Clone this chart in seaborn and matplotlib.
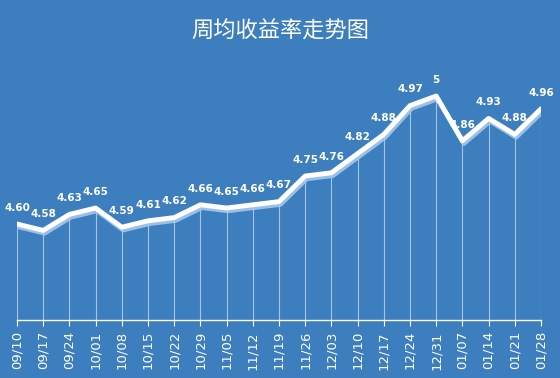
import matplotlib
matplotlib.use("Agg")
import matplotlib.pyplot as plt
import seaborn as sns
import pandas as pd
import matplotlib.patheffects as pe

dates = ["09/10","09/17","09/24","10/01","10/08","10/15","10/22","10/29","11/05","11/12","11/19",
         "11/26","12/03","12/10","12/17","12/24","12/31","01/07","01/14","01/21","01/28"]
values = [4.60,4.58,4.63,4.65,4.59,4.61,4.62,4.66,4.65,4.66,4.67,
          4.75,4.76,4.82,4.88,4.97,5.00,4.86,4.93,4.88,4.96]
labels = ["4.60","4.58","4.63","4.65","4.59","4.61","4.62","4.66","4.65","4.66","4.67",
          "4.75","4.76","4.82","4.88","4.97","5","4.86","4.93","4.88","4.96"]
title = "周均收益率走势图"

bg = "#3d7ebe"
sns.set_theme(style="white")
plt.rcParams['font.family'] = ['Noto Sans CJK SC', 'DejaVu Sans']

df = pd.DataFrame({"x": range(len(dates)), "v": values})

fig = plt.figure(figsize=(5.6, 3.78), dpi=100, facecolor=bg)
ax = fig.add_axes([17/560, 58/378, 524/560, 256/378])
ax.set_facecolor(bg)

ymin = 4.30
ax.vlines(df["x"], ymin, df["v"], color="white", alpha=0.55, lw=0.8, zorder=1)
sns.lineplot(data=df, x="x", y="v", ax=ax, color="white", lw=3.5, zorder=3,
             path_effects=[pe.SimpleLineShadow(offset=(1, -2), shadow_color="#a6c8ec",
                                               alpha=0.9, linewidth=3.5),
                           pe.Normal()])

for i, (v, t) in enumerate(zip(values, labels)):
    ax.annotate(t, (i, v), xytext=(0, 8), textcoords="offset points", ha="center", va="bottom",
                color="white", fontsize=7.5, fontweight="bold", family=["DejaVu Sans"], zorder=4)

ax.set_xlim(0, len(dates) - 1)
ax.set_ylim(ymin, 5.1)
ax.set_xticks(range(len(dates)))
ax.set_xticklabels(dates, rotation=90, color="white", fontsize=9.5, family=["DejaVu Sans"])
ax.tick_params(axis="x", bottom=True, length=4, color="white", width=0.8, pad=4)
ax.set_yticks([])
ax.set_xlabel("")
ax.set_ylabel("")
for s in ["top", "left", "right"]:
    ax.spines[s].set_visible(False)
ax.spines["bottom"].set_color("white")
ax.spines["bottom"].set_linewidth(1)

fig.text(0.5, 1 - 31/378, title, ha="center", va="center", color="white", fontsize=16,
         fontweight="medium")
fig.savefig("out.png", dpi=100, facecolor=bg)
